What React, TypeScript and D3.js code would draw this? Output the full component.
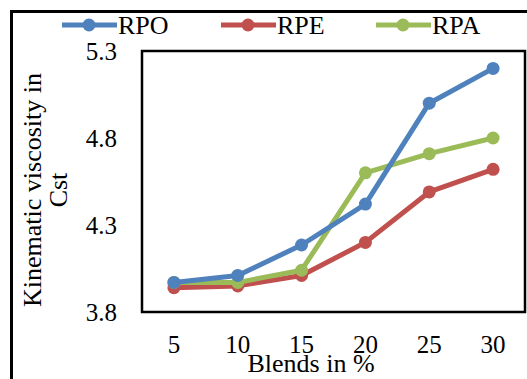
import React, { useEffect, useRef } from "react";
import * as d3 from "d3";

const blends = ["5", "10", "15", "20", "25", "30"];
const rpo = [3.97, 4.01, 4.185, 4.42, 5.0, 5.2];
const rpe = [3.94, 3.95, 4.01, 4.2, 4.49, 4.62];
const rpa = [3.97, 3.97, 4.04, 4.6, 4.71, 4.8];
const yTicks = [3.8, 4.3, 4.8, 5.3];
const seriesNames = ["RPO", "RPE", "RPA"];
const colors = ["#4F81BD", "#C0504D", "#9BBB59"];

const font = "'Liberation Serif', 'Times New Roman', serif";

const App = () => {
  const ref = useRef<SVGSVGElement | null>(null);

  useEffect(() => {
    const svg = d3.select(ref.current!);
    svg.selectAll("*").remove();

    const left = 142, top = 51, right = 525, bottom = 312;
    const x = d3.scaleBand().domain(blends).range([left, right]);
    const y = d3.scaleLinear().domain([3.8, 5.3]).range([bottom, top]);
    const cx = (d: string) => x(d)! + x.bandwidth() / 2;

    svg.append("rect").attr("width", 527).attr("height", 379).attr("fill", "white");

    // outer frame (cropped on right and bottom)
    svg.append("rect")
      .attr("x", 11.5).attr("y", 11.5).attr("width", 540).attr("height", 400)
      .attr("fill", "none").attr("stroke", "black").attr("stroke-width", 3);

    // plot box
    svg.append("rect")
      .attr("x", left).attr("y", top).attr("width", right - left).attr("height", bottom - top)
      .attr("fill", "white").attr("stroke", "black").attr("stroke-width", 2.5);

    // y tick labels
    svg.append("g").selectAll("text").data(yTicks).join("text")
      .attr("x", 117).attr("y", d => y(d)).attr("dy", "0.35em")
      .attr("text-anchor", "end").attr("font-family", font).attr("font-size", 25)
      .text(d => d.toFixed(1));

    // x tick labels
    svg.append("g").selectAll("text").data(blends).join("text")
      .attr("x", d => cx(d)).attr("y", 353)
      .attr("text-anchor", "middle").attr("font-family", font).attr("font-size", 25)
      .text(d => d);

    svg.append("text")
      .attr("x", 311).attr("y", 372).attr("text-anchor", "middle")
      .attr("font-family", font).attr("font-size", 26)
      .text("Blends  in %");

    const yt = svg.append("text")
      .attr("transform", "translate(41,190) rotate(-90)")
      .attr("text-anchor", "middle").attr("font-family", font).attr("font-size", 26);
    yt.append("tspan").attr("x", 0).attr("y", 0).text("Kinematic viscosity in");
    yt.append("tspan").attr("x", 0).attr("y", 26).text("Cst");

    const data = [rpo, rpe, rpa];
    const line = d3.line<number>().x((_, i) => cx(blends[i])).y(d => y(d));

    [1, 2, 0].forEach(k => {
      const g = svg.append("g");
      g.append("path").datum(data[k]).attr("d", line)
        .attr("fill", "none").attr("stroke", colors[k]).attr("stroke-width", 5)
        .attr("stroke-linejoin", "round");
      g.selectAll("circle").data(data[k]).join("circle")
        .attr("cx", (_, i) => cx(blends[i])).attr("cy", d => y(d))
        .attr("r", 6.5).attr("fill", colors[k]);
    });

    // legend
    const legendX = [62, 221, 376];
    seriesNames.forEach((name, k) => {
      const g = svg.append("g");
      g.append("line")
        .attr("x1", legendX[k]).attr("x2", legendX[k] + 55).attr("y1", 25).attr("y2", 25)
        .attr("stroke", colors[k]).attr("stroke-width", 5);
      g.append("circle").attr("cx", legendX[k] + 27).attr("cy", 25).attr("r", 6.5).attr("fill", colors[k]);
      g.append("text")
        .attr("x", legendX[k] + 56).attr("y", 34)
        .attr("font-family", font).attr("font-size", 26)
        .text(name);
    });
  }, []);

  return (
    <svg ref={ref} width={527} height={379}
      style={{ position: "absolute", left: 0, top: 0 }} />
  );
};

export default App;
